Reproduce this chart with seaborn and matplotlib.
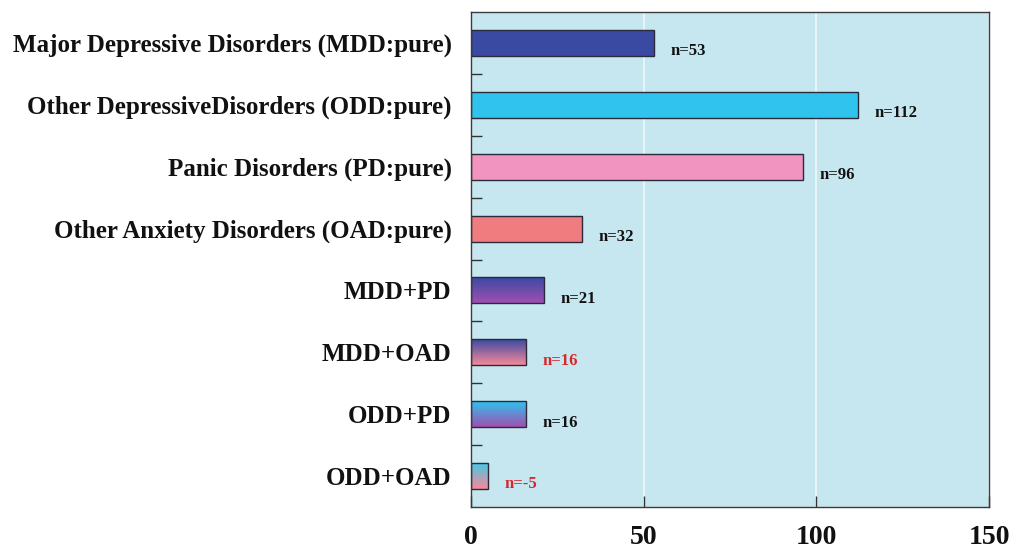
import numpy as np
import pandas as pd
import matplotlib
matplotlib.use("Agg")
import matplotlib.pyplot as plt
from matplotlib.colors import LinearSegmentedColormap
import seaborn as sns

# --- données ---
categories = [
    "Major Depressive Disorders (MDD:pure)",
    "Other DepressiveDisorders (ODD:pure)",
    "Panic Disorders (PD:pure)",
    "Other Anxiety Disorders (OAD:pure)",
    "MDD+PD",
    "MDD+OAD",
    "ODD+PD",
    "ODD+OAD",
]
values = [53, 112, 96, 32, 21, 16, 16, 5]
labels = ["n=53", "n=112", "n=96", "n=32", "n=21", "n=16", "n=16", "n=-5"]
label_colors = ["#111111"] * 5 + ["#d8262b", "#111111", "#d8262b"]
x_ticks = [0, 50, 100, 150]

# couleurs (pleines puis dégradés haut -> bas)
DARK_BLUE = "#3a4aa2"
CYAN = "#2fc3ee"
PINK = "#f294c0"
SALMON = "#f07c80"
PURPLE = "#a04fb2"
bar_fill = [DARK_BLUE, CYAN, PINK, SALMON, None, None, None, None]
gradients = {
    4: (DARK_BLUE, PURPLE),
    5: (DARK_BLUE, "#f7899a"),
    6: (CYAN, PURPLE),
    7: ("#49c9e6", "#f7899a"),
}

sns.set_style("white")
plt.rcParams["font.family"] = ["Liberation Serif", "DejaVu Serif"]
plt.rcParams["font.weight"] = "bold"
plt.rcParams["text.color"] = "#111111"
plt.rcParams["xtick.labelcolor"] = "#111111"
plt.rcParams["ytick.labelcolor"] = "#111111"

fig = plt.figure(figsize=(10.09, 5.52), dpi=100)
ax = fig.add_axes([0.4668, 0.0815, 0.5134, 0.8967])
ax.set_facecolor("#c6e7f0")

df = pd.DataFrame({"cat": categories, "val": values})
palette = [c if c else "#ffffff" for c in bar_fill]
sns.barplot(data=df, x="val", y="cat", hue="cat", palette=palette, legend=False,
            orient="h", width=0.42, edgecolor="#2a2a3a", linewidth=1.0,
            saturation=1, ax=ax)

# dégradés verticaux sur les barres combinées
for i, patch in enumerate(ax.patches):
    if i in gradients:
        x0, y0 = patch.get_x(), patch.get_y()
        w, h = patch.get_width(), patch.get_height()
        cmap = LinearSegmentedColormap.from_list("g%d" % i, gradients[i])
        grad = np.linspace(0, 1, 64).reshape(-1, 1)
        im = ax.imshow(grad, cmap=cmap, aspect="auto", origin="upper",
                       extent=(x0, x0 + w, y0 + h, y0), zorder=patch.get_zorder() + 0.1)
        im.set_clip_path(patch)
        patch.set_facecolor("none")
        patch.set_zorder(patch.get_zorder() + 0.2)

for i, (v, lab, col) in enumerate(zip(values, labels, label_colors)):
    ax.annotate(lab, xy=(v, i), xytext=(12, -6), textcoords="offset points",
                ha="left", va="center", fontsize=12, fontweight="bold", color=col)

ax.set_xlim(0, 150)
ax.set_ylim(7.5, -0.5)
ax.set_xticks(x_ticks)
ax.set_xticklabels([str(t) for t in x_ticks])
ax.set_yticks(range(len(categories)))
ax.set_yticklabels(categories)
ax.set_yticks(np.arange(0.5, 7.0, 1.0), minor=True)
ax.set_xlabel("")
ax.set_ylabel("")
ax.grid(axis="x", color="white", alpha=0.7, linewidth=1.2)
ax.set_axisbelow(True)

ax.tick_params(axis="y", which="major", length=0, pad=14, labelsize=18)
ax.tick_params(axis="y", which="minor", direction="in", length=8, width=1, color="#333333", left=True)
ax.tick_params(axis="x", which="major", direction="in", length=8, width=1, color="#333333",
               bottom=True, pad=13, labelsize=20)
for lab in ax.get_xticklabels() + ax.get_yticklabels():
    lab.set_fontweight("bold")

for sp in ax.spines.values():
    sp.set_color("#3a3a3a")
    sp.set_linewidth(1.0)

fig.savefig("out.png", dpi=100)
